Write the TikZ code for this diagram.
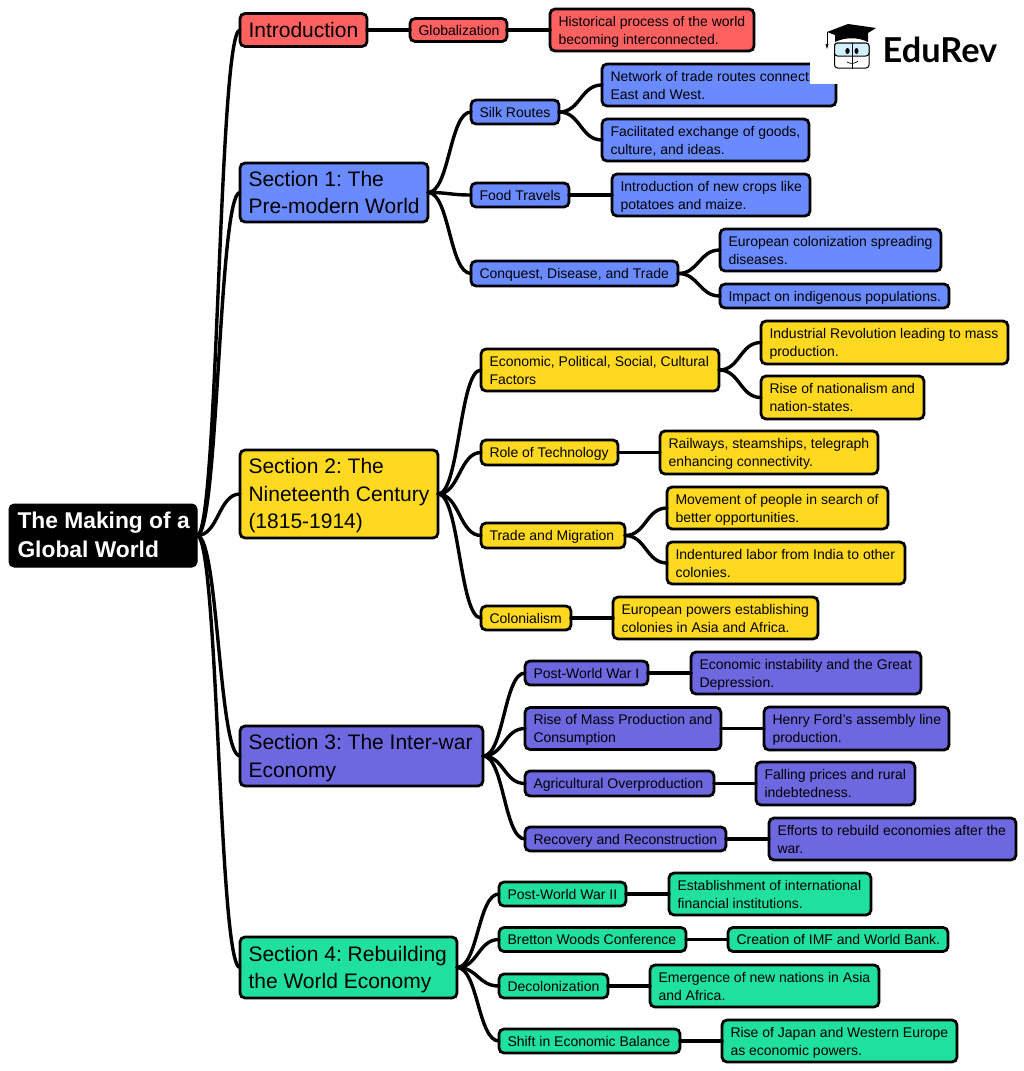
\documentclass[tikz,border=0pt]{standalone}
\usepackage{fontspec}
\setmainfont{Liberation Sans}
\newfontfamily\logofont{Lato}
\usetikzlibrary{calc}
\frenchspacing
\definecolor{cred}{HTML}{FF6161}
\definecolor{cblue}{HTML}{6A8BFF}
\definecolor{cyellow}{HTML}{FFD91F}
\definecolor{cpurple}{HTML}{6E68E0}
\definecolor{cgreen}{HTML}{1FE09F}
\newcommand\txtdrop{-1.5pt}
\tikzset{
  basebox/.style={draw=black,line width=2.8pt,rounded corners=5pt,outer sep=0pt,inner xsep=0pt,inner ysep=0pt,text=black},
  leafbox/.style={basebox,font=\fontsize{14}{18}\selectfont},
  secbox/.style={basebox,font=\fontsize{21}{27.5}\selectfont\renewcommand\txtdrop{-1.8pt}},
  rootbox/.style={basebox,draw=black,fill=black,text=white,line width=1pt,font=\fontsize{22.8}{29}\selectfont\bfseries\renewcommand\txtdrop{-1.3pt}},
  conn/.style={draw=black,line width=3.4pt,line cap=round},
}
\newcommand\bx[8]{%
  \pgfmathsetmacro\bcx{(#2+#4)/2}%
  \pgfmathsetmacro\bcy{(#3+#5)/2}%
  \pgfmathsetmacro\bw{#4-#2}%
  \pgfmathsetmacro\bh{#5-#3}%
  \pgfmathsetmacro\btw{#4-#2-17}%
  \node[#6,fill=#7,minimum width=\bw pt,minimum height=\bh pt] (#1) at (\bcx,\bcy) {\raisebox{\txtdrop}[\height][\depth]{\makebox[\btw pt][l]{\begin{tabular}{@{}l@{}}#8\end{tabular}}}};%
}
\newcommand\lnk[2]{%
  \draw[conn] (#1.east) .. controls ($(#1.east)!0.5!(#2.west |- #1.east)$) and ($(#1.east |- #2.west)!0.5!(#2.west)$) .. (#2.west);%
}
\begin{document}
\begin{tikzpicture}[x=1pt,y=-1pt]
\useasboundingbox (0,0) rectangle (1024,1071);
\bx{root}{9}{504}{197}{567}{rootbox}{black}{The Making of a\\Global World}
% Introduction
\bx{intro}{240}{13.5}{367}{46.5}{secbox}{cred}{Introduction}
\bx{glob}{410}{18.5}{507}{41.5}{leafbox}{cred}{Globalization}
\bx{hist}{550}{9}{754}{51}{leafbox}{cred}{Historical process of the world\\becoming interconnected.}
% Section 1
\bx{sa}{240}{163}{428}{222}{secbox}{cblue}{Section 1: The\\Pre-modern World}
\bx{silk}{471}{100}{559}{124}{leafbox}{cblue}{Silk Routes}
\bx{netw}{602}{64}{836}{106}{leafbox}{cblue}{Network of trade routes connect\\East and West.}
\bx{facil}{602}{119}{809}{161}{leafbox}{cblue}{Facilitated exchange of goods,\\culture, and ideas.}
\bx{food}{471}{183}{569}{207}{leafbox}{cblue}{Food Travels}
\bx{crops}{612}{174}{810}{216}{leafbox}{cblue}{Introduction of new crops like\\potatoes and maize.}
\bx{conq}{471}{261}{678}{286}{leafbox}{cblue}{Conquest, Disease, and Trade}
\bx{eucol}{720}{229}{941}{271}{leafbox}{cblue}{European colonization spreading\\diseases.}
\bx{impact}{720}{284}{949}{308}{leafbox}{cblue}{Impact on indigenous populations.}
% Section 2
\bx{sb}{240}{450}{438}{538}{secbox}{cyellow}{Section 2: The\\Nineteenth Century\\(1815-1914)}
\bx{econ}{481}{349}{719}{391}{leafbox}{cyellow}{Economic, Political, Social, Cultural\\Factors}
\bx{indus}{761}{321}{1008}{364}{leafbox}{cyellow}{Industrial Revolution leading to mass\\production.}
\bx{natn}{761}{376}{924}{419}{leafbox}{cyellow}{Rise of nationalism and\\nation-states.}
\bx{tech}{481}{440}{618}{465}{leafbox}{cyellow}{Role of Technology}
\bx{rail}{660}{431}{878}{474}{leafbox}{cyellow}{Railways, steamships, telegraph\\enhancing connectivity.}
\bx{trade}{481}{523}{625}{548}{leafbox}{cyellow}{Trade and Migration}
\bx{move}{667}{487}{888}{529}{leafbox}{cyellow}{Movement of people in search of\\better opportunities.}
\bx{inden}{667}{542}{905}{584}{leafbox}{cyellow}{Indentured labor from India to other\\colonies.}
\bx{colo}{481}{606}{571}{630}{leafbox}{cyellow}{Colonialism}
\bx{powers}{613}{597}{818}{639}{leafbox}{cyellow}{European powers establishing\\colonies in Asia and Africa.}
% Section 3
\bx{sc}{240}{726}{483}{786}{secbox}{cpurple}{Section 3: The Inter-war\\Economy}
\bx{pwa}{525}{661}{648}{685}{leafbox}{cpurple}{Post-World War I}
\bx{insta}{691}{652}{921}{694}{leafbox}{cpurple}{Economic instability and the Great\\Depression.}
\bx{mass}{525}{707.5}{721}{749.5}{leafbox}{cpurple}{Rise of Mass Production and\\Consumption}
\bx{ford}{764}{707}{949}{750}{leafbox}{cpurple}{Henry Ford's assembly line\\production.}
\bx{agri}{525}{771}{714}{796}{leafbox}{cpurple}{Agricultural Overproduction}
\bx{fall}{756}{762}{915}{805}{leafbox}{cpurple}{Falling prices and rural\\indebtedness.}
\bx{reco}{525}{827}{726}{851}{leafbox}{cpurple}{Recovery and Reconstruction}
\bx{effo}{769}{818}{1016}{860}{leafbox}{cpurple}{Efforts to rebuild economies after the\\war.}
% Section 4
\bx{sd}{240}{937}{457}{998}{secbox}{cgreen}{Section 4: Rebuilding\\the World Economy}
\bx{pwb}{499}{882}{626}{906}{leafbox}{cgreen}{Post-World War II}
\bx{esta}{669}{873}{871}{915}{leafbox}{cgreen}{Establishment of international\\financial institutions.}
\bx{bret}{499}{927.5}{686}{951.5}{leafbox}{cgreen}{Bretton Woods Conference}
\bx{imf}{728}{927.5}{948}{951.5}{leafbox}{cgreen}{Creation of IMF and World Bank.}
\bx{deco}{499}{974}{608}{998}{leafbox}{cgreen}{Decolonization}
\bx{emer}{650}{965}{879}{1007}{leafbox}{cgreen}{Emergence of new nations in Asia\\and Africa.}
\bx{shif}{499}{1029}{680}{1053}{leafbox}{cgreen}{Shift in Economic Balance}
\bx{japa}{722}{1020}{957}{1062}{leafbox}{cgreen}{Rise of Japan and Western Europe\\as economic powers.}
% connectors
\lnk{root}{intro}\lnk{root}{sa}\lnk{root}{sb}\lnk{root}{sc}\lnk{root}{sd}
\lnk{intro}{glob}\lnk{glob}{hist}
\lnk{sa}{silk}\lnk{sa}{food}\lnk{sa}{conq}
\lnk{silk}{netw}\lnk{silk}{facil}\lnk{food}{crops}\lnk{conq}{eucol}\lnk{conq}{impact}
\lnk{sb}{econ}\lnk{sb}{tech}\lnk{sb}{trade}\lnk{sb}{colo}
\lnk{econ}{indus}\lnk{econ}{natn}\lnk{tech}{rail}\lnk{trade}{move}\lnk{trade}{inden}\lnk{colo}{powers}
\lnk{sc}{pwa}\lnk{sc}{mass}\lnk{sc}{agri}\lnk{sc}{reco}
\lnk{pwa}{insta}\lnk{mass}{ford}\lnk{agri}{fall}\lnk{reco}{effo}
\lnk{sd}{pwb}\lnk{sd}{bret}\lnk{sd}{deco}\lnk{sd}{shif}
\lnk{pwb}{esta}\lnk{bret}{imf}\lnk{deco}{emer}\lnk{shif}{japa}
% logo patch
\fill[white] (810,15) rectangle (1012,84);
% mascot
\fill[black] (848,24) -- (876,28) -- (868,33) -- (868,42) .. controls (858,37) and (845,37) .. (835,42) -- (835,35) -- (827,32) -- cycle;
\draw[black,line width=0.8pt] (827,32) -- (827,45);
\fill[black] (825.5,44) -- (828.5,44) -- (827,49) -- cycle;
\draw[black,line width=1pt,rounded corners=3pt,fill=white] (834.5,43) rectangle (869,68);
\draw[black,line width=1pt,rounded corners=3pt,fill=cyan!18] (834.5,43) rectangle (869,56);
\draw[black,line width=1pt] (852,43) -- (852,69);
\fill[black] (847.5,51) ellipse (2.2pt and 3pt);
\fill[black] (856.5,51) ellipse (2pt and 3pt);
\draw[black,line width=0.7pt] (847,62) .. controls (850,64) and (855,64) .. (858,61);
\node[anchor=base west,inner sep=0pt,font=\logofont\bfseries\fontsize{34.3}{34}\selectfont] (logo) at (882.5,62.5) {EduRev};
\end{tikzpicture}
\end{document}
